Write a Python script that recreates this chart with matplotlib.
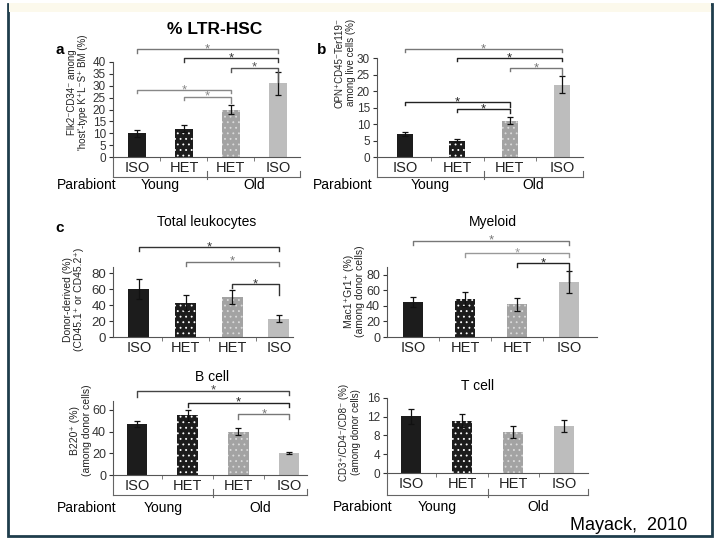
import matplotlib.pyplot as plt
from matplotlib.patches import Rectangle

plt.rcParams['font.family'] = ['Liberation Sans', 'DejaVu Sans']
plt.rcParams['hatch.linewidth'] = 0.6

# ---- data ----
groups = ['ISO', 'HET', 'HET', 'ISO']
ages = ['Young', 'Old']

# a: LTR-HSC
a_vals = [10, 12, 20, 31]
a_err = [1.5, 1.5, 2, 5]
a_brackets = [(0, 3, 45.5, 1.5, 1.5, '#777777'), (1, 3, 41.7, 1.5, 1.5, '#333333'),
              (2, 3, 37.5, 1.5, 6.0, '#555555'), (0, 2, 28.2, 1.2, 1.2, '#888888'),
              (1, 2, 25.3, 1.2, 2.5, '#888888')]
# b: OPN+ cells
b_vals = [7, 5, 11, 22]
b_err = [0.6, 0.5, 1.0, 2.5]
b_brackets = [(0, 3, 32.7, 0.8, 0.8, '#777777'), (1, 3, 30.0, 0.8, 0.8, '#222222'),
              (2, 3, 27.0, 0.8, 2.0, '#777777'), (0, 2, 16.7, 0.8, 1.5, '#222222'),
              (1, 2, 14.5, 0.8, 1.2, '#222222')]
# c: total leukocytes
leu_vals = [60, 43, 50, 23]
leu_err = [12, 9, 9, 4]
leu_brackets = [(0, 3, 112, 5, 5, '#333333'), (1, 3, 94, 5, 5, '#777777'),
                (2, 3, 66, 5, 14, '#333333')]
# c: myeloid
mye_vals = [45, 49, 42, 71]
mye_err = [7, 9, 8, 14]
mye_brackets = [(0, 3, 124, 5, 5, '#777777'), (1, 3, 108, 5, 5, '#999999'),
                (2, 3, 95, 5, 24, '#222222')]
# c: B cell
bc_vals = [47, 55, 40, 20]
bc_err = [3, 5, 3, 1]
bc_brackets = [(0, 3, 77.5, 6, 4, '#444444'), (1, 3, 66.5, 4, 4, '#222222'),
               (2, 3, 56, 4, 4, '#777777')]
# c: T cell
tc_vals = [12.1, 11.1, 8.7, 10.0]
tc_err = [1.6, 1.4, 1.2, 1.3]

bar_colors = ['#1c1c1c', '#1c1c1c', '#a3a3a3', '#bdbdbd']
dot_colors = [None, 'white', '#dadada', None]

W, H = 720, 540
fig = plt.figure(figsize=(7.2, 5.4), dpi=100)


def axes_px(left, top, right, bottom):
    return fig.add_axes([left / W, 1 - bottom / H, (right - left) / W, (bottom - top) / H])


def draw_panel(ax, vals, errs, width, xlim, ylim, yticks, spine_top, tick_fs):
    for i, v in enumerate(vals):
        if dot_colors[i]:
            ax.bar(i, v, width, color=bar_colors[i], edgecolor=dot_colors[i],
                   hatch='...', linewidth=0, zorder=2)
        else:
            ax.bar(i, v, width, color=bar_colors[i], linewidth=0, zorder=2)
    ax.errorbar(range(len(vals)), vals, yerr=errs, fmt='none', ecolor='#111111',
                elinewidth=0.9, capsize=2.5, capthick=0.9, zorder=3)
    ax.set_xlim(*xlim)
    ax.set_ylim(*ylim)
    ax.set_yticks(yticks)
    ax.set_xticks(range(4))
    ax.set_xticklabels(groups, fontsize=10.5, color='#222222')
    ax.set_xticks([0.5, 1.5, 2.5], minor=True)
    ax.tick_params(axis='x', which='major', length=0, pad=3)
    ax.tick_params(axis='x', which='minor', length=3, color='#666666')
    ax.tick_params(axis='y', length=3, labelsize=tick_fs, colors='#333333', pad=2)
    for s in ['top', 'right']:
        ax.spines[s].set_visible(False)
    for s in ['left', 'bottom']:
        ax.spines[s].set_color('#555555')
        ax.spines[s].set_linewidth(0.8)
    ax.spines['left'].set_bounds(0, spine_top)
    ax.patch.set_alpha(0)


def draw_brackets(ax, brackets):
    for x0, x1, y, d0, d1, c in brackets:
        ax.plot([x0, x0, x1, x1], [y - d0, y, y, y - d1], color=c, lw=1.0,
                clip_on=False, zorder=4)
        ax.annotate('*', xy=((x0 + x1) / 2, y), xytext=(0, -3), textcoords='offset pixels',
                    ha='center', va='baseline', fontsize=9.5, color=c)


def draw_groups(ax, line_off, text_off, parab_off):
    lo, hi = ax.get_xlim()
    h = ax.get_position().height * H
    tr = ax.get_xaxis_transform()
    yl = -line_off / h
    kw = dict(color='#666666', lw=0.8, clip_on=False, transform=tr)
    ax.plot([lo, hi], [yl, yl], **kw)
    ax.plot([lo, lo], [0, yl], **kw)
    ax.plot([1.5, 1.5], [yl + 6 / h, yl - 2 / h], **kw)
    ax.plot([hi, hi], [yl + 6 / h, yl], **kw)
    yt = -text_off / h
    ax.text((lo + 1.5) / 2, yt, ages[0], transform=tr, ha='center', va='center', fontsize=10)
    ax.text((1.5 + hi) / 2, yt, ages[1], transform=tr, ha='center', va='center', fontsize=10)
    ax.annotate('Parabiont', xy=(lo, 0), xycoords=tr, xytext=(-parab_off, -text_off),
                textcoords='offset pixels', ha='left', va='center', fontsize=10)


def ylab(ax, x, y, text, fs=7.5):
    ax.text(x, y, text, rotation=90, transform=ax.transAxes, ha='center', va='center',
            fontsize=fs, linespacing=1.2, color='#222222')


# frame
fig.patches.append(Rectangle((8 / W, 4 / H), 704 / W, 532 / H, transform=fig.transFigure,
                             fill=False, edgecolor='#1f3d4c', linewidth=2))
fig.patches.append(Rectangle((9 / W, 1 - 12 / H), 702 / W, 9 / H, transform=fig.transFigure,
                             facecolor='#fcf9ec', edgecolor='none'))

# panel a
ax = axes_px(113, 43, 300, 157)
draw_panel(ax, a_vals, a_err, 0.37, (-0.51, 3.47), (0, 48), range(0, 41, 5), 40, 8.5)
draw_brackets(ax, a_brackets)
draw_groups(ax, 20, 28, 56)
ylab(ax, -0.19, 0.57, "Flk2\u207bCD34\u207b among\n'host'-type K\u207aL\u207bS\u207a BM (%)", 7)

# panel b
ax = axes_px(377, 45, 583, 157)
draw_panel(ax, b_vals, b_err, 0.31, (-0.535, 3.40), (0, 34), range(0, 31, 5), 30, 8.5)
draw_brackets(ax, b_brackets)
draw_groups(ax, 20, 28, 64)
ylab(ax, -0.155, 0.84, 'OPN\u207aCD45\u207bTer119\u207b\namong live cells (%)', 7)

# total leukocytes
ax = axes_px(113, 241, 293, 337)
draw_panel(ax, leu_vals, leu_err, 0.45, (-0.557, 3.30), (0, 120), range(0, 81, 20), 88, 9.5)
draw_brackets(ax, leu_brackets)
ylab(ax, -0.22, 0.39, 'Donor-derived (%)\n(CD45.1\u207a or CD45.2\u207a)')
ax.text(0.52, 1.2, 'Total leukocytes', transform=ax.transAxes, ha='center', va='center', fontsize=10)

# myeloid
ax = axes_px(387, 236, 597, 337)
draw_panel(ax, mye_vals, mye_err, 0.40, (-0.5, 3.54), (0, 130), range(0, 81, 20), 90, 9)
draw_brackets(ax, mye_brackets)
ylab(ax, -0.155, 0.45, 'Mac1\u207aGr1\u207a (%)\n(among donor cells)')
ax.text(0.505, 1.14, 'Myeloid', transform=ax.transAxes, ha='center', va='center', fontsize=10)

# B cell
ax = axes_px(113, 386, 307, 475)
draw_panel(ax, bc_vals, bc_err, 0.40, (-0.47, 3.35), (0, 82), range(0, 61, 20), 68, 9)
draw_brackets(ax, bc_brackets)
draw_groups(ax, 20, 33, 56)
ylab(ax, -0.165, 0.5, 'B220\u207a (%)\n(among donor cells)')
ax.text(0.51, 1.1, 'B cell', transform=ax.transAxes, ha='center', va='center', fontsize=10)

# T cell
ax = axes_px(387, 393, 588, 473)
draw_panel(ax, tc_vals, tc_err, 0.41, (-0.47, 3.47), (0, 17), range(0, 17, 4), 16, 8.5)
draw_groups(ax, 22, 34, 54)
ylab(ax, -0.185, 0.51, 'CD3\u207a/CD4\u207b/CD8\u207b (%)\n(among donor cells)', 7)
ax.text(0.45, 1.0, 'T cell', transform=ax.transAxes, ha='center', va='bottom', fontsize=10)

# titles, labels
fig.text(215 / W, 1 - 30 / H, '% LTR-HSC', ha='center', va='center', fontsize=12.5, fontweight='bold')
for lbl, x, y in [('a', 60, 50), ('b', 322, 50), ('c', 60, 228)]:
    fig.text(x / W, 1 - y / H, lbl, ha='center', va='center', fontsize=11, fontweight='bold')
fig.text(629 / W, 1 - 525 / H, 'Mayack,  2010', ha='center', va='center', fontsize=13)

fig.savefig('out.png', dpi=100)
